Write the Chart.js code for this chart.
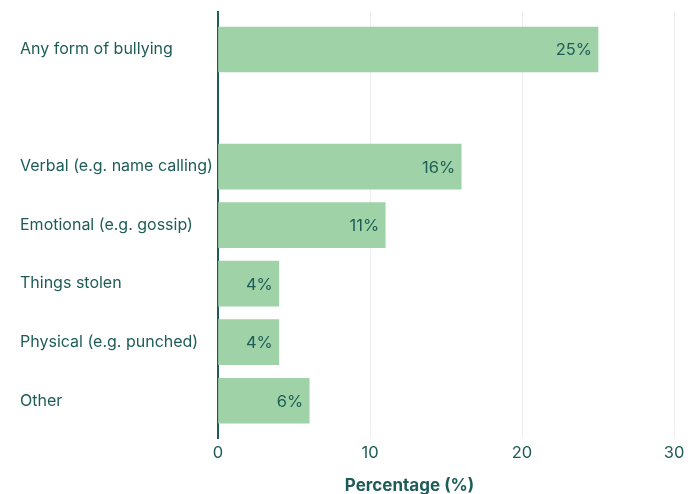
<!DOCTYPE html>
<html>
<head>
<meta charset="utf-8">
<script src="https://cdn.jsdelivr.net/npm/chart.js@4"></script>
<style>
  body { margin: 0; background: #fff; }
  #wrap { width: 699px; height: 494px; }
</style>
</head>
<body>
<div id="wrap"><canvas id="bullyChart"></canvas></div>
<script>
const categories = ['Any form of bullying', '', 'Verbal (e.g. name calling)', 'Emotional (e.g. gossip)', 'Things stolen', 'Physical (e.g. punched)', 'Other'];
const percentages = [25, null, 16, 11, 4, 4, 6];
const xTicks = [0, 10, 20, 30];
const axisTitle = 'Percentage (%)';

const teal = '#1d5c57';
const green = '#9fd2a7';
const font = 'Inter, "Noto Sans", sans-serif';

// bars on a linear y scale so the slots can sit inside the grid like the original
const points = percentages.map((v, i) => ({ x: v, y: i }));

const valueLabels = {
  id: 'valueLabels',
  afterDatasetsDraw(chart) {
    const ctx = chart.ctx;
    const meta = chart.getDatasetMeta(0);
    ctx.save();
    ctx.font = '16.5px ' + font;
    ctx.fillStyle = teal;
    ctx.textAlign = 'right';
    ctx.textBaseline = 'middle';
    meta.data.forEach((bar, i) => {
      if (percentages[i] == null) return;
      ctx.fillText(percentages[i] + '%', bar.x - 6, bar.y + 1);
    });
    ctx.restore();
  }
};

const bottomTitle = {
  id: 'bottomTitle',
  afterDraw(chart) {
    const ctx = chart.ctx;
    const area = chart.chartArea;
    ctx.save();
    ctx.font = 'bold 17px ' + font;
    ctx.fillStyle = teal;
    ctx.textAlign = 'center';
    ctx.textBaseline = 'middle';
    ctx.fillText(axisTitle, area.left + area.width * 0.42, chart.height - 8);
    ctx.restore();
  }
};

new Chart(document.getElementById('bullyChart'), {
  type: 'bar',
  data: {
    datasets: [{
      data: points,
      backgroundColor: green,
      barThickness: 45,
      borderWidth: 0
    }]
  },
  options: {
    indexAxis: 'y',
    responsive: true,
    maintainAspectRatio: false,
    animation: false,
    layout: { padding: { top: 12, left: 20, right: 25, bottom: 26 } },
    plugins: {
      legend: { display: false },
      tooltip: { enabled: false }
    },
    scales: {
      x: {
        type: 'linear',
        min: xTicks[0],
        max: xTicks[xTicks.length - 1],
        afterBuildTicks: scale => { scale.ticks = xTicks.map(v => ({ value: v })); },
        grid: { color: '#ececec', drawTicks: false },
        border: { display: false },
        ticks: { color: teal, padding: 5, font: { family: font, size: 16.5 } }
      },
      y: {
        type: 'linear',
        reverse: true,
        offset: false,
        bounds: 'data',
        min: -0.64,
        max: categories.length - 0.36,
        afterBuildTicks: scale => { scale.ticks = categories.map((c, i) => ({ value: i })); },
        afterFit: scale => {
          scale.width = 198;
          scale.paddingTop = 0;
          scale.paddingBottom = 0;
        },
        grid: { display: false, offset: false },
        border: { display: true, color: teal, width: 2 },
        ticks: {
          color: teal,
          crossAlign: 'far',
          padding: 6,
          font: { family: font, size: 16 },
          callback: v => categories[v] ?? ''
        }
      }
    }
  },
  plugins: [valueLabels, bottomTitle]
});
</script>
</body>
</html>
